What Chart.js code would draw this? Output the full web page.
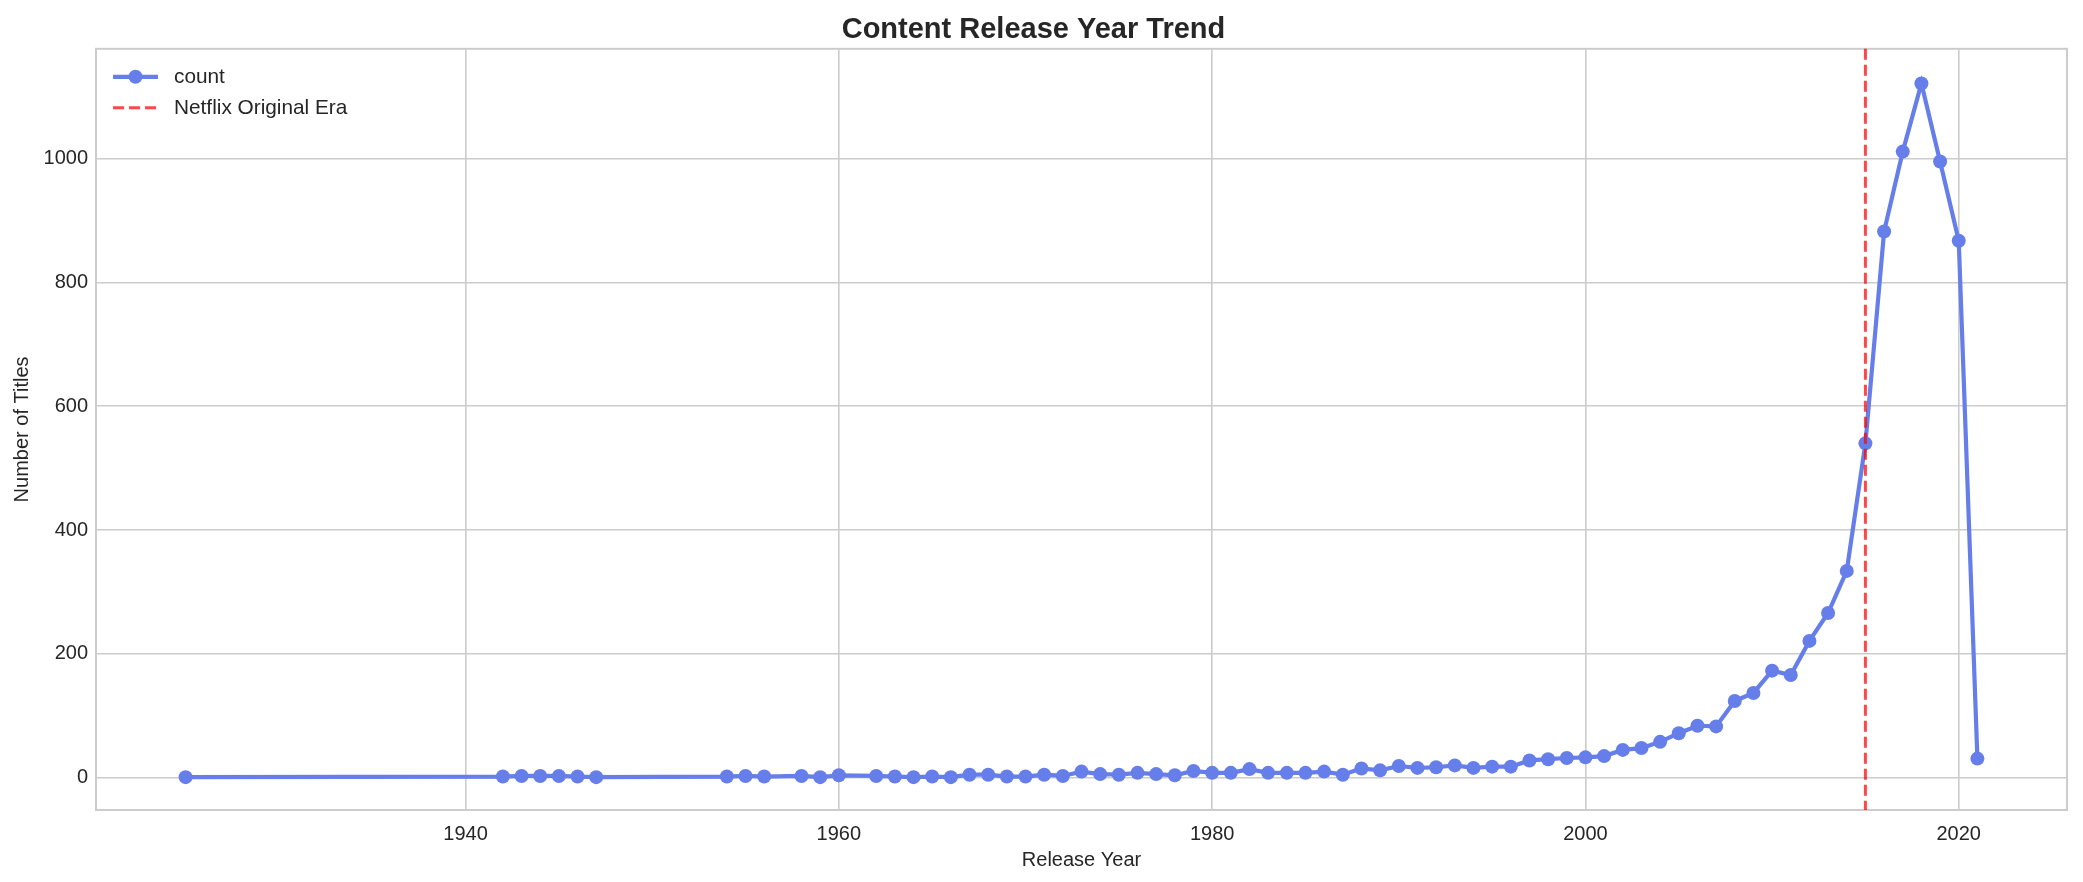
<!DOCTYPE html>
<html>
<head>
<meta charset="utf-8">
<script src="https://cdn.jsdelivr.net/npm/chart.js@4/dist/chart.umd.min.js"></script>
<style>
  html, body { margin: 0; padding: 0; background: #fff; }
  canvas { display: block; }
</style>
</head>
<body>
<canvas id="trend" width="2083" height="882"></canvas>
<script>
const years = [
  1925,
  1942, 1943, 1944, 1945, 1946, 1947,
  1954, 1955, 1956, 1958, 1959, 1960,
  1962, 1963, 1964, 1965, 1966, 1967, 1968, 1969, 1970, 1971,
  1972, 1973, 1974, 1975, 1976, 1977, 1978, 1979, 1980, 1981,
  1982, 1983, 1984, 1985, 1986, 1987, 1988, 1989, 1990, 1991,
  1992, 1993, 1994, 1995, 1996, 1997, 1998, 1999, 2000, 2001,
  2002, 2003, 2004, 2005, 2006, 2007, 2008, 2009, 2010, 2011,
  2012, 2013, 2014, 2015, 2016, 2017, 2018, 2019, 2020, 2021
];
const counts = [
  1,
  2, 3, 3, 3, 2, 1,
  2, 3, 2, 3, 1, 4,
  3, 2, 1, 2, 1, 5, 5, 2, 2, 5,
  3, 10, 6, 5, 8, 6, 4, 11, 8, 8,
  14, 8, 8, 8, 10, 5, 15, 12, 19, 16,
  17, 20, 16, 18, 18, 28, 30, 32, 33, 35,
  45, 48, 58, 72, 84, 83, 124, 137, 173, 166,
  221, 266, 334, 540, 882, 1011, 1121, 995, 867, 31
];
const xTicks = [1940, 1960, 1980, 2000, 2020];
const yTicks = [0, 200, 400, 600, 800, 1000];
const netflixYear = 2015;

const blue = "#667eea";
const red = "rgba(255,0,0,0.72)";
const grey = "#cccccc";
const ink = "#262626";
const fam = "'Liberation Sans', Arial, sans-serif";

const framePlugin = {
  id: "frame",
  beforeDatasetsDraw(chart) {
    const { ctx, chartArea: a } = chart;
    ctx.save();
    ctx.strokeStyle = grey;
    ctx.lineWidth = 2;
    ctx.strokeRect(a.left, a.top, a.right - a.left, a.bottom - a.top);
    ctx.restore();
  }
};

const eraPlugin = {
  id: "era",
  afterDatasetsDraw(chart) {
    const { ctx, chartArea: a, scales } = chart;
    const x = scales.x.getPixelForValue(netflixYear);
    ctx.save();
    ctx.strokeStyle = red;
    ctx.lineWidth = 3;
    ctx.setLineDash([11, 5]);
    ctx.beginPath();
    ctx.moveTo(x, a.top);
    ctx.lineTo(x, a.bottom);
    ctx.stroke();
    ctx.restore();
  }
};

const legendPlugin = {
  id: "innerLegend",
  afterDraw(chart) {
    const { ctx, chartArea: a } = chart;
    const x0 = a.left + 17, x1 = a.left + 62, tx = a.left + 78;
    const y0 = a.top + 28, y1 = a.top + 59;
    ctx.save();
    ctx.strokeStyle = blue;
    ctx.lineWidth = 4.2;
    ctx.beginPath();
    ctx.moveTo(x0, y0);
    ctx.lineTo(x1, y0);
    ctx.stroke();
    ctx.fillStyle = blue;
    ctx.beginPath();
    ctx.arc((x0 + x1) / 2, y0, 7, 0, Math.PI * 2);
    ctx.fill();
    ctx.strokeStyle = red;
    ctx.lineWidth = 3;
    ctx.setLineDash([11, 5]);
    ctx.beginPath();
    ctx.moveTo(x0, y1);
    ctx.lineTo(x1 + 2, y1);
    ctx.stroke();
    ctx.setLineDash([]);
    ctx.fillStyle = ink;
    ctx.font = "20.8px " + fam;
    ctx.textBaseline = "middle";
    ctx.fillText("count", tx, y0);
    ctx.fillText("Netflix Original Era", tx, y1);
    ctx.restore();
  }
};

new Chart(document.getElementById("trend"), {
  type: "scatter",
  data: {
    datasets: [{
      label: "count",
      data: years.map((y, i) => ({ x: y, y: counts[i] })),
      showLine: true,
      borderColor: blue,
      backgroundColor: blue,
      borderWidth: 4.2,
      pointRadius: 7,
      pointHoverRadius: 7,
      pointBorderWidth: 0,
      pointBackgroundColor: blue,
      tension: 0
    }]
  },
  options: {
    responsive: false,
    devicePixelRatio: 1,
    animation: false,
    layout: { padding: { left: 0, right: 16, top: 0, bottom: 0 } },
    plugins: {
      legend: { display: false },
      tooltip: { enabled: false },
      title: {
        display: true,
        text: "Content Release Year Trend",
        color: ink,
        font: { family: fam, size: 29, weight: "bold" },
        padding: { top: 13, bottom: 1 }
      }
    },
    scales: {
      x: {
        type: "linear",
        min: 1920.2,
        max: 2025.8,
        afterBuildTicks: s => { s.ticks = xTicks.map(v => ({ value: v })); },
        afterFit: s => { s.height = 72; },
        grid: { color: grey, lineWidth: 1.6, drawTicks: false },
        border: { display: false },
        ticks: {
          color: ink,
          padding: 12,
          maxRotation: 0,
          font: { family: fam, size: 20 },
          callback: v => String(v)
        },
        title: {
          display: true,
          text: "Release Year",
          color: ink,
          font: { family: fam, size: 20 },
          padding: { top: 0, bottom: 10 }
        }
      },
      y: {
        min: -52,
        max: 1177,
        afterBuildTicks: s => { s.ticks = yTicks.map(v => ({ value: v })); },
        afterFit: s => { s.width = 96; },
        grid: { color: grey, lineWidth: 1.6, drawTicks: false },
        border: { display: false },
        ticks: {
          color: ink,
          padding: 8,
          font: { family: fam, size: 20 },
          callback: v => String(v)
        },
        title: {
          display: true,
          text: "Number of Titles",
          color: ink,
          font: { family: fam, size: 20 },
          padding: { top: 10, bottom: 0 }
        }
      }
    }
  },
  plugins: [framePlugin, eraPlugin, legendPlugin]
});
</script>
</body>
</html>
